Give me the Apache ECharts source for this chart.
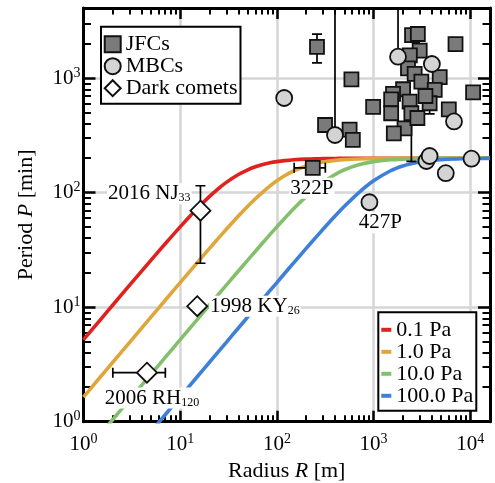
<!DOCTYPE html>
<html><head><meta charset="utf-8">
<script src="https://cdn.jsdelivr.net/npm/echarts@6/dist/echarts.min.js"></script>
<style>html,body{margin:0;padding:0;background:#fff}#c{width:495px;height:483px}</style>
</head><body><div id="c"></div>
<script>
// ---------- axes ----------
const X_MIN = 1, X_MAX = 16000;
const Y_MIN = 1, Y_MAX = 4100;
const xMajorTicks = [1, 10, 100, 1000, 10000];
const yMajorTicks = [1, 10, 100, 1000];
const xMinorTicks = [2,3,4,5,6,7,8,9,20,30,40,50,60,70,80,90,200,300,400,500,600,700,800,900,2000,3000,4000,5000,6000,7000,8000,9000];
const yMinorTicks = [2,3,4,5,6,7,8,9,20,30,40,50,60,70,80,90,200,300,400,500,600,700,800,900,2000,3000,4000];

// ---------- model curves ----------
const curveRadius = [1,1.5,2,3,5,7,10,15,20,25,30,40,50,60,70,85,100,120,150,200,250,300,400,500,700,1000,1500,2000,2500,3000,4000,5000,7000,10000,16000];
const period01Pa  = [5.2,7.8,10.4,15.6,25.8,35.8,50.3,72.7,92.3,109,123,144,158.5,168.4,175.3,182.2,186.7,190.5,193.7,196.4,197.7,198.4,199.1,199.4,199.7,199.8,199.9,200,200,200,200,200,200,200,200];
const period1Pa   = [1.64,2.47,3.29,4.93,8.22,11.5,16.4,24.5,32.5,40.3,47.9,62.5,76.1,88.5,99.8,114.6,127,140.5,155.4,170.9,179.8,185.3,191.4,194.4,197,198.5,199.3,199.6,199.8,199.8,199.9,200,200,200,200];
const period10Pa  = [0.52,0.78,1.04,1.56,2.6,3.64,5.2,7.8,10.4,13.0,15.6,20.7,25.8,30.8,35.8,43.2,50.3,59.6,72.7,92.3,109,123,144,158.5,175.3,186.7,193.7,196.4,197.7,198.4,199.1,199.4,199.7,199.8,200];
const period100Pa = [0.164,0.247,0.329,0.493,0.822,1.15,1.64,2.47,3.29,4.11,4.93,6.58,8.22,9.87,11.5,14.0,16.4,19.7,24.5,32.5,40.3,47.9,62.5,76.1,99.8,127,155.4,170.9,179.8,185.3,191.4,194.4,197,198.5,199.4];
const curveNames = ['0.1 Pa','1.0 Pa','10.0 Pa','100.0 Pa'];

// ---------- JFCs ----------
const jfcRadius = [260,590,990,315,565,610,235,2500,2870,3000,2370,2270,2660,4830,3120,4290,2020,1590,1520,2360,3800,1520,2460,6000,10700,7040,2090,1620,2840,3440];
const jfcPeriod = [1880,978,561,390,356,289,165,2380,2430,1740,1580,1220,1090,1020,932,789,800,728,654,623,604,494,494,535,753,1980,365,330,449,699];
const jfcLabels = ['','','','','','','322P','','','','','','','','','','','','','','','','','','','','','','',''];

// ---------- MBCs ----------
const mbcRadius = [119,399,1790,4010,6790,906,3520,3800,10300,5580];
const mbcPeriod = [671,319,1540,1330,419,82.5,189,209,198,148];
const mbcLabels = ['','','','','','427P','','','',''];

// ---------- Dark comets ----------
const darkRadius = [16.2,15.0,4.53];
const darkPeriod = [69.6,10.2,2.68];
const darkLabels = ['2016 NJ{s|33}','1998 KY{s|26}','2006 RH{s|120}'];

// ---------- error bars ----------
const errVertR    = [260, 3800, 2460, 399, 1790, 16.2];
const errVertLow  = [1360, 487, 188, 319, 1540, 24.2];
const errVertHigh = [2420, 640, 520, 4100, 4100, 115];
const errHorP     = [165, 2.68];
const errHorLow   = [151, 2.01];
const errHorHigh  = [317, 7.02];

// ---------- styling ----------
const FONT = "'Liberation Serif', serif";
const FS = 21, FS2 = 22;
const curveColors = ['#e0221f','#dfa73a','#84c06c','#3d7fd9'];
const tickRich = {
  b:{fontFamily:FONT,fontSize:FS,color:'#000',lineHeight:24},
  s:{fontFamily:FONT,fontSize:14,color:'#000',lineHeight:13,verticalAlign:'top'}
};
const tickFmt = v => '{b|10}{s|' + Math.round(Math.log10(v)) + '}';
const subRich = {
  s:{fontFamily:FONT,fontSize:12,color:'#000',lineHeight:12,verticalAlign:'bottom'}
};

function mkAxis(dim, pos, major, withLabels, extra) {
  const min = dim === 'x' ? X_MIN : Y_MIN, max = dim === 'x' ? X_MAX : Y_MAX;
  const ticks = major ? (dim === 'x' ? xMajorTicks : yMajorTicks) : (dim === 'x' ? xMinorTicks : yMinorTicks);
  const a = {
    type:'log', logBase:10, min:min, max:max, position:pos, gridIndex:0,
    axisLine:{show:major, onZero:false, lineStyle:{color:'#000', width:3}},
    axisTick:{show:true, inside:true, length: major ? (dim==='x'?11:12) : (dim==='x'?6.5:7.5), customValues:ticks,
      lineStyle:{color:'#000', width: major ? 2.5 : 2}},
    minorTick:{show:false},
    axisLabel:{show:false},
    splitLine:{show:false},
    axisPointer:{show:false},
    silent:true
  };
  if (withLabels) {
    a.axisLabel = {show:true, customValues:ticks, formatter:tickFmt, rich:tickRich,
      margin: dim==='x' ? 11 : 3, color:'#000', fontFamily:FONT};
    a.splitLine = {show:true, lineStyle:{color:'#d6d6d6', width:2.5}};
  }
  return Object.assign(a, extra || {});
}

const nameStyle = {fontFamily:FONT,fontSize:FS2,color:'#000',
  rich:{i:{fontFamily:FONT,fontSize:FS2,fontStyle:'italic',color:'#000'}}};
const xAxes = [
  mkAxis('x','bottom',true,true,{name:'Radius {i|R} [m]', nameLocation:'middle', nameGap:38, nameTextStyle:nameStyle}),
  mkAxis('x','bottom',false,false),
  mkAxis('x','top',true,false),
  mkAxis('x','top',false,false)
];
const yAxes = [
  mkAxis('y','left',true,true,{name:'Period {i|P} [min]', nameLocation:'middle', nameGap:46, nameTextStyle:nameStyle}),
  mkAxis('y','left',false,false),
  mkAxis('y','right',true,false),
  mkAxis('y','right',false,false)
];

// ---------- series ----------
const curvePeriods = [period01Pa, period1Pa, period10Pa, period100Pa];
const series = [];
curvePeriods.forEach((ps, k) => {
  series.push({
    name: curveNames[k], type:'line', xAxisIndex:0, yAxisIndex:0,
    data: curveRadius.map((r,i) => [r, ps[i]]),
    showSymbol:false, symbol:'none', smooth:0.25, clip:true, z:2,
    lineStyle:{color:curveColors[k], width:3.6}, itemStyle:{color:curveColors[k]},
    silent:true
  });
});

const errStyle = {stroke:'#000', lineWidth:1.7};
const CAP = 5;
series.push({
  type:'custom', xAxisIndex:0, yAxisIndex:0, z:3, clip:true, silent:true,
  data: errVertR.map((r,i) => [r, errVertLow[i], errVertHigh[i]]),
  encode:{x:0, y:[1,2]},
  renderItem:(params, api) => {
    const lo = api.coord([api.value(0), api.value(1)]);
    const hi = api.coord([api.value(0), api.value(2)]);
    return {type:'group', children:[
      {type:'line', shape:{x1:lo[0],y1:lo[1],x2:hi[0],y2:hi[1]}, style:errStyle},
      {type:'line', shape:{x1:lo[0]-CAP,y1:lo[1],x2:lo[0]+CAP,y2:lo[1]}, style:errStyle},
      {type:'line', shape:{x1:hi[0]-CAP,y1:hi[1],x2:hi[0]+CAP,y2:hi[1]}, style:errStyle}
    ]};
  }
});
series.push({
  type:'custom', xAxisIndex:0, yAxisIndex:0, z:3, clip:true, silent:true,
  data: errHorP.map((p,i) => [errHorLow[i], errHorHigh[i], p]),
  encode:{x:[0,1], y:2},
  renderItem:(params, api) => {
    const lo = api.coord([api.value(0), api.value(2)]);
    const hi = api.coord([api.value(1), api.value(2)]);
    return {type:'group', children:[
      {type:'line', shape:{x1:lo[0],y1:lo[1],x2:hi[0],y2:hi[1]}, style:errStyle},
      {type:'line', shape:{x1:lo[0],y1:lo[1]-CAP,x2:lo[0],y2:lo[1]+CAP}, style:errStyle},
      {type:'line', shape:{x1:hi[0],y1:hi[1]-CAP,x2:hi[0],y2:hi[1]+CAP}, style:errStyle}
    ]};
  }
});

const labelBase = {show:true, fontFamily:FONT, fontSize:FS, color:'#000', backgroundColor:'#fff', padding:[0,1], rich:subRich};
const itemLabelPlacement = {
  '322P': {position:'bottom', distance:2, offset:[-1,0]},
  '427P': {position:'bottom', distance:1, offset:[11,0]},
  '2016 NJ{s|33}': {position:'left', distance:0, offset:[2,-17]},
  '1998 KY{s|26}': {position:'right', distance:1, offset:[0,0]},
  '2006 RH{s|120}': {position:'bottom', distance:4, offset:[5,0]}
};
function pts(rs, ps, labels) {
  return rs.map((r,i) => {
    const it = {value:[r, ps[i]]};
    if (labels && labels[i]) {
      const t = labels[i];
      it.label = Object.assign({}, labelBase, itemLabelPlacement[t], {formatter: t});
    }
    return it;
  });
}
const markerBorder = {borderColor:'#111', borderWidth:1.8};
series.push({
  name:'JFCs', type:'scatter', xAxisIndex:0, yAxisIndex:0, z:4, silent:true,
  symbol:'rect', symbolSize:14, data: pts(jfcRadius, jfcPeriod, jfcLabels),
  itemStyle:Object.assign({color:'#7a7a7a', opacity:1}, markerBorder), label:{show:false}
});
series.push({
  name:'MBCs', type:'scatter', xAxisIndex:0, yAxisIndex:0, z:4, silent:true,
  symbol:'circle', symbolSize:16, data: pts(mbcRadius, mbcPeriod, mbcLabels),
  itemStyle:Object.assign({color:'#d4d4d4', opacity:1}, markerBorder), label:{show:false}
});
series.push({
  name:'Dark comets', type:'scatter', xAxisIndex:0, yAxisIndex:0, z:5, silent:true,
  symbol:'diamond', symbolSize:20, data: pts(darkRadius, darkPeriod, darkLabels),
  itemStyle:Object.assign({color:'#ffffff', opacity:1}, markerBorder), label:{show:false}
});

const legendText = {fontFamily:FONT, fontSize:FS2, color:'#000'};
const option = {
  animation:false,
  backgroundColor:'#fff',
  grid:{left:83.5, right:5, top:8, bottom:61.3, containLabel:false, outerBoundsMode:'none'},
  xAxis:xAxes, yAxis:yAxes,
  legend:[
    {orient:'vertical', left:101, top:26.7, data:['JFCs','MBCs','Dark comets'],
     itemWidth:16, itemHeight:16, itemGap:0, padding:[6.5,3,4.5,2.7],
     borderColor:'#000', borderWidth:2, borderRadius:0, backgroundColor:'#fff',
     textStyle:Object.assign({lineHeight:21.7}, legendText), selectedMode:false},
    {orient:'vertical', left:378.3, top:312.3, data:curveNames, icon:'rect',
     itemWidth:10, itemHeight:4, itemGap:0, padding:[6.5,3,4,3],
     borderColor:'#000', borderWidth:2, borderRadius:0, backgroundColor:'#fff',
     textStyle:Object.assign({lineHeight:21}, legendText), selectedMode:false}
  ],
  series:series
};
const chart = echarts.init(document.getElementById('c'), null, {renderer:'canvas'});
chart.setOption(option);
</script></body></html>
